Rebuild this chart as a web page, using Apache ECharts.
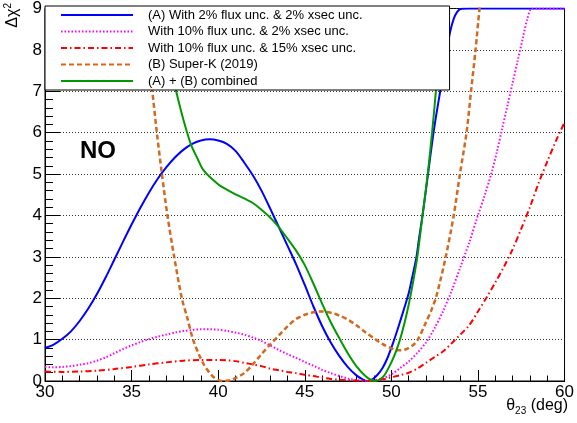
<!DOCTYPE html>
<html>
<head>
<meta charset="utf-8">
<script src="https://cdn.jsdelivr.net/npm/echarts@6/dist/echarts.min.js"></script>
<style>
  html, body { margin: 0; padding: 0; background: #fff; }
  #chart { width: 577px; height: 423px; }
</style>
</head>
<body>
<div id="chart"></div>
<script>
// Delta chi^2 versus theta_23 (normal ordering), five sensitivity curves.

// (A) With 2% flux unc. & 2% xsec unc.
const thetaA = [30, 30.5, 31, 31.5, 32, 32.5, 33, 33.5, 34, 34.5, 35, 35.5, 36, 36.5, 37, 37.5, 38, 38.5, 39, 39.5, 40, 40.5, 41, 41.5, 42, 42.5, 43, 43.5, 44, 44.5, 45, 45.5, 46, 46.5, 47, 47.5, 48, 48.3, 48.6, 48.9, 49.2, 49.5, 49.8, 50.1, 50.4, 50.7, 51.0, 51.2, 51.45, 51.6, 51.8, 52.1, 52.4, 52.6, 52.8, 53.0, 53.2, 53.4, 53.6, 53.8, 54.0, 54.5, 57, 60];
const chiA   = [0.80, 0.88, 1.02, 1.20, 1.45, 1.75, 2.10, 2.50, 2.93, 3.36, 3.78, 4.18, 4.55, 4.88, 5.16, 5.40, 5.59, 5.73, 5.81, 5.84, 5.81, 5.73, 5.56, 5.28, 4.97, 4.60, 4.17, 3.72, 3.27, 2.82, 2.32, 1.80, 1.33, 0.93, 0.60, 0.33, 0.13, 0.05, 0.0, 0.04, 0.15, 0.32, 0.58, 0.92, 1.30, 1.70, 2.12, 2.50, 3.0, 3.45, 4.0, 4.95, 5.9, 6.45, 6.95, 7.5, 8.0, 8.45, 8.75, 8.92, 8.99, 9.0, 9.0, 9.0];

// With 10% flux unc. & 2% xsec unc.
const thetaM = [30, 30.5, 31, 31.5, 32, 32.5, 33, 33.5, 34, 34.5, 35, 35.5, 36, 36.5, 37, 37.5, 38, 38.5, 39, 39.5, 40, 40.5, 41, 41.5, 42, 42.5, 43, 43.5, 44, 44.5, 45, 45.5, 46, 46.5, 47, 47.5, 48, 48.5, 49, 49.5, 50, 50.5, 51, 51.5, 52, 52.5, 53, 53.5, 54, 54.5, 55, 55.4, 55.8, 56.1, 56.4, 56.7, 57.0, 57.3, 57.6, 57.85, 58.1, 58.5, 60];
const chiM   = [0.34, 0.33, 0.34, 0.36, 0.39, 0.43, 0.49, 0.57, 0.67, 0.77, 0.86, 0.94, 1.01, 1.07, 1.12, 1.17, 1.21, 1.23, 1.25, 1.25, 1.24, 1.21, 1.17, 1.12, 1.05, 0.97, 0.86, 0.75, 0.65, 0.56, 0.46, 0.37, 0.27, 0.19, 0.12, 0.06, 0.02, 0.0, 0.02, 0.06, 0.16, 0.31, 0.47, 0.68, 0.93, 1.28, 1.70, 2.20, 2.77, 3.35, 4.0, 4.5, 5.05, 5.55, 6.1, 6.65, 7.2, 7.75, 8.3, 8.75, 9.0, 9.0, 9.0];

// With 10% flux unc. & 15% xsec unc.
const thetaR = [30, 31, 32, 33, 34, 35, 36, 37, 38, 39, 39.5, 40, 40.5, 41, 41.5, 42, 42.5, 43, 43.5, 44, 44.5, 45, 45.5, 46, 46.5, 47, 47.5, 48, 48.8, 49.5, 50, 50.5, 51, 51.5, 52, 52.5, 53, 53.5, 54, 54.5, 55, 55.5, 56, 56.5, 57, 57.5, 58, 58.5, 59, 59.5, 60];
const chiR   = [0.23, 0.22, 0.23, 0.25, 0.29, 0.34, 0.40, 0.45, 0.49, 0.51, 0.51, 0.51, 0.50, 0.48, 0.44, 0.40, 0.36, 0.30, 0.26, 0.22, 0.19, 0.15, 0.12, 0.08, 0.05, 0.03, 0.02, 0.01, 0.0, 0.04, 0.09, 0.14, 0.20, 0.30, 0.44, 0.58, 0.72, 0.92, 1.13, 1.35, 1.68, 2.02, 2.38, 2.76, 3.18, 3.68, 4.20, 4.78, 5.30, 5.80, 6.25];

// (B) Super-K (2019)
const thetaB = [35.6, 36.0, 36.2, 36.46, 36.75, 37.07, 37.46, 37.9, 38.2, 38.55, 38.9, 39.2, 39.5, 39.8, 40.1, 40.4, 40.7, 41.0, 41.5, 42.0, 42.5, 43.0, 43.5, 44.0, 44.5, 45.0, 45.5, 46.0, 46.5, 47.0, 47.5, 48.0, 48.5, 49.0, 49.5, 50.0, 50.4, 50.8, 51.2, 51.5, 52.0, 52.3, 52.6, 53.14, 53.6, 53.96, 54.34, 54.6, 54.86, 55.09, 55.4];
const chiB   = [9.8, 7.9, 7.0, 6.0, 5.0, 4.0, 3.0, 2.0, 1.55, 1.0, 0.63, 0.38, 0.20, 0.07, 0.01, 0.0, 0.02, 0.07, 0.19, 0.40, 0.65, 0.88, 1.10, 1.32, 1.50, 1.60, 1.66, 1.68, 1.65, 1.58, 1.48, 1.34, 1.18, 1.03, 0.89, 0.79, 0.74, 0.76, 0.85, 0.98, 1.42, 1.70, 2.05, 3.0, 4.0, 5.0, 6.0, 7.0, 8.0, 9.0, 10.2];

// (A) + (B) combined
const thetaC = [36.9, 37.3, 37.6, 38.0, 38.43, 38.8, 39.1, 39.3, 39.7, 40.1, 40.6, 41.0, 41.5, 42.0, 42.5, 43.0, 43.5, 44.0, 44.5, 45.0, 45.5, 46.0, 46.5, 47.0, 47.5, 48.0, 48.5, 48.8, 49.06, 49.3, 49.6, 50.0, 50.3, 50.6, 50.9, 51.1, 51.3, 51.5, 51.8, 52.1, 52.35, 52.55, 52.75, 52.95];
const chiC   = [8.6, 7.5, 6.95, 6.3, 5.71, 5.38, 5.12, 5.02, 4.86, 4.72, 4.60, 4.51, 4.41, 4.30, 4.14, 3.95, 3.72, 3.44, 3.15, 2.80, 2.35, 1.87, 1.42, 1.03, 0.66, 0.35, 0.12, 0.03, 0.0, 0.03, 0.14, 0.45, 0.75, 1.15, 1.65, 2.05, 2.50, 3.0, 4.0, 5.0, 6.0, 6.9, 8.0, 9.2];

const seriesNames = [
  '(A) With 2% flux unc. & 2% xsec unc.',
  'With 10% flux unc. & 2% xsec unc.',
  'With 10% flux unc. & 15% xsec unc.',
  '(B) Super-K (2019)',
  '(A) + (B) combined'
];

const FONT = 'Liberation Sans, Arial, Helvetica, sans-serif';

function pairs(xs, ys) {
  return xs.map((x, i) => [x, ys[i]]);
}

function curve(name, xs, ys, lineStyle) {
  return {
    name: name,
    type: 'line',
    data: pairs(xs, ys),
    symbol: 'none',
    showSymbol: false,
    smooth: 0.3,
    clip: true,
    lineStyle: lineStyle,
    itemStyle: { color: lineStyle.color },
    z: 2
  };
}

const chart = echarts.init(document.getElementById('chart'), null, { renderer: 'canvas' });

chart.setOption({
  animation: false,
  backgroundColor: '#fff',
  grid: {
    left: 45, right: 10, top: 6, bottom: 42,
    show: true, borderColor: '#000', borderWidth: 1,
    backgroundColor: 'transparent'
  },
  xAxis: {
    type: 'value', min: 30, max: 60, interval: 5,
    axisLine: { show: true, onZero: false, lineStyle: { color: '#000', width: 1 } },
    axisTick: { show: true, inside: true, length: 11, lineStyle: { color: '#000', width: 1 } },
    minorTick: { show: true, splitNumber: 5, length: 5.5, lineStyle: { color: '#000', width: 1 } },
    splitLine: { show: false },
    axisLabel: { color: '#000', fontSize: 17, fontFamily: FONT, margin: 3 }
  },
  yAxis: {
    type: 'value', min: 0, max: 9, interval: 1,
    axisLine: { show: true, onZero: false, lineStyle: { color: '#000', width: 1 } },
    axisTick: { show: true, inside: true, length: 15, lineStyle: { color: '#000', width: 1 } },
    minorTick: { show: true, splitNumber: 5, length: 8, lineStyle: { color: '#000', width: 1 } },
    splitLine: { show: true, lineStyle: { color: '#333', width: 1, type: [1, 2] } },
    axisLabel: { color: '#000', fontSize: 17, fontFamily: FONT, margin: 3 }
  },
  legend: {
    data: seriesNames,
    orient: 'vertical',
    align: 'left',
    left: 45, top: 6,
    padding: [2, 87, 2, 15],
    itemWidth: 72, itemHeight: 14, itemGap: 2.5,
    backgroundColor: '#fff',
    borderColor: '#000', borderWidth: 1, borderRadius: 0,
    itemStyle: { opacity: 0 },
    textStyle: { color: '#000', fontSize: 13, fontFamily: FONT, lineHeight: 14, padding: [0, 0, 0, 10] },
    selectedMode: false,
    z: 10
  },
  series: [
    curve(seriesNames[0], thetaA, chiA, { color: '#0000ff', width: 2, type: 'solid' }),
    curve(seriesNames[1], thetaM, chiM, { color: '#ff00ff', width: 2, type: [1.5, 2] }),
    curve(seriesNames[2], thetaR, chiR, { color: '#ff0000', width: 2, type: [6, 3, 1.5, 3] }),
    curve(seriesNames[3], thetaB, chiB, { color: '#d2691e', width: 2.5, type: [5, 3] }),
    curve(seriesNames[4], thetaC, chiC, { color: '#009900', width: 2, type: 'solid' })
  ],
  graphic: [
    {
      type: 'text', x: 80, y: 151, z: 20,
      style: { text: 'NO', fontSize: 24, fontWeight: 'bold', fontFamily: FONT, fill: '#000', verticalAlign: 'middle', align: 'left' }
    },
    {
      type: 'text', x: 13, y: 3, rotation: Math.PI / 2, z: 20,
      style: {
        text: '{a|Δχ}{s|2}', align: 'right', verticalAlign: 'middle',
        rich: {
          a: { fontSize: 16, fontFamily: FONT, fill: '#000', lineHeight: 20 },
          s: { fontSize: 10, fontFamily: FONT, fill: '#000', lineHeight: 10, verticalAlign: 'top' }
        }
      }
    },
    {
      type: 'text', x: 568, y: 406, z: 20,
      style: {
        text: '{a|θ}{s|23}{a| (deg)}', align: 'right', verticalAlign: 'middle',
        rich: {
          a: { fontSize: 16, fontFamily: FONT, fill: '#000', lineHeight: 20 },
          s: { fontSize: 10, fontFamily: FONT, fill: '#000', lineHeight: 10, verticalAlign: 'bottom' }
        }
      }
    }
  ]
});
</script>
</body>
</html>
